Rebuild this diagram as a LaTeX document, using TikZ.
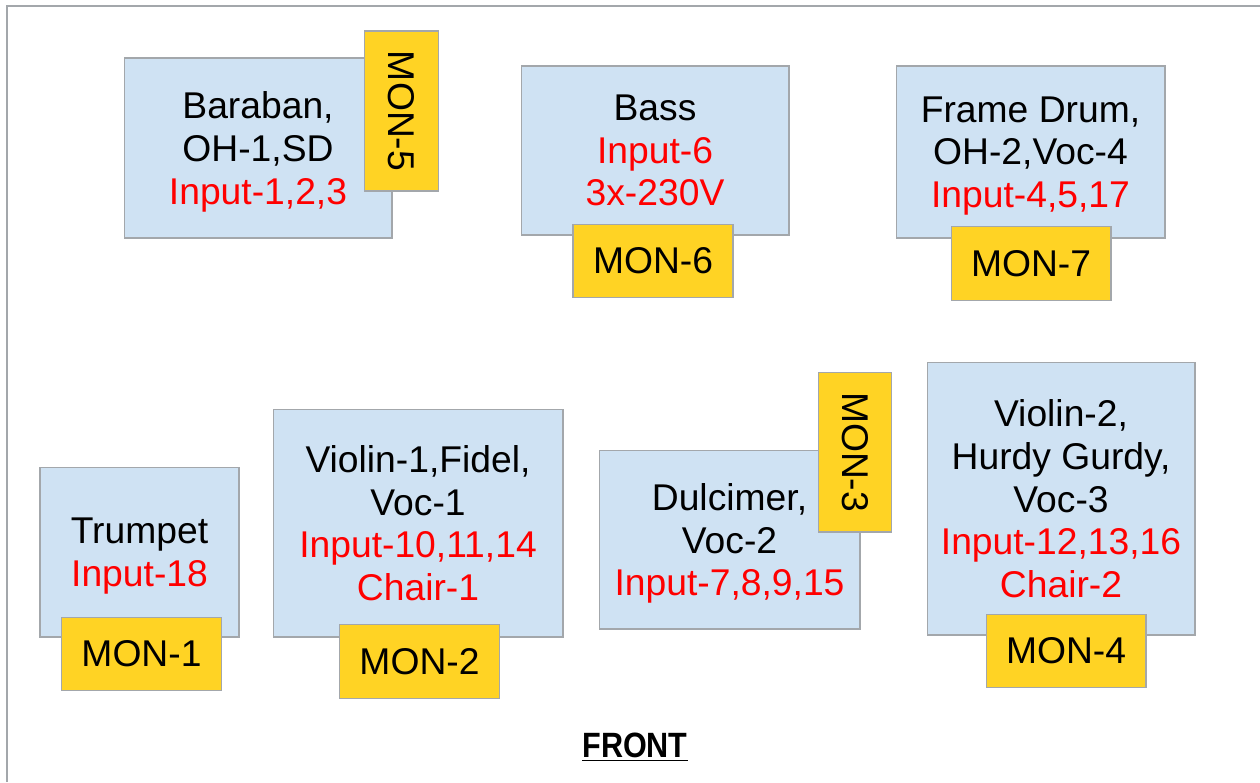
\documentclass[tikz,border=0pt]{standalone}
\usepackage{fontspec}
\setmainfont{Liberation Sans}
\usepackage{graphicx}
\definecolor{boxblue}{HTML}{CFE2F3}
\definecolor{monyellow}{HTML}{FFD324}
\definecolor{boxline}{HTML}{A3A7AB}
\tikzset{
  inst/.style={draw=boxline,fill=boxblue,line width=0.6pt,align=center,inner sep=0pt,
    text depth=0pt,font=\fontsize{21.2}{24.2}\selectfont},
  mon/.style={draw=boxline,fill=monyellow,line width=0.6pt,inner sep=0pt,
    minimum width=3.2cm,minimum height=1.47cm,font=\fontsize{21.2}{24.2}\selectfont}
}
\newcommand{\rd}[1]{\textcolor{red}{#1}}
\begin{document}
\begin{tikzpicture}[x=0.02cm,y=-0.02cm]
	\useasboundingbox (0,0) rectangle (1260,782);
	\draw[boxline,line width=0.8pt] (7,782)--(7,6)--(1260,6);
	\node[inst,minimum width=5.36cm,minimum height=3.6cm] (baraban) at (258,148) {Baraban,\\OH-1,SD\\\rd{Input-1,2,3}};
	\node[inst,minimum width=5.36cm,minimum height=3.38cm] (bass) at (655,150.5) {Bass\\\rd{Input-6}\\\rd{3x-230V}};
	\node[inst,minimum width=5.38cm,minimum height=3.44cm] (framedrum) at (1030.5,152) {Frame Drum,\\OH-2,Voc-4\\\rd{Input-4,5,17}};
	\node[inst,minimum width=3.98cm,minimum height=3.4cm] (trumpet) at (139.5,552) {Trumpet\\\rd{Input-18}};
	\node[inst,minimum width=5.8cm,minimum height=4.56cm] (violin1) at (418,523) {Violin-1,Fidel,\\Voc-1\\\rd{Input-10,11,14}\\\rd{Chair-1}};
	\node[inst,minimum width=5.22cm,minimum height=3.58cm] (dulcimer) at (729.5,539.5) {Dulcimer,\\Voc-2\\\rd{Input-7,8,9,15}};
	\node[inst,minimum width=5.36cm,minimum height=5.46cm] (violin2) at (1061,498.5) {Violin-2,\\Hurdy Gurdy,\\Voc-3\\\rd{Input-12,13,16}\\\rd{Chair-2}};
	\node[mon,rotate=-90] (mon5) at (401.5,111) {MON-5};
	\node[mon] (mon6) at (653,261) {MON-6};
	\node[mon] (mon7) at (1031,263.5) {MON-7};
	\node[mon] (mon1) at (141.5,654) {MON-1};
	\node[mon] (mon2) at (419.5,661.5) {MON-2};
	\node[mon,rotate=-90] (mon3) at (855,452) {MON-3};
	\node[mon] (mon4) at (1066,651) {MON-4};
	\node[font=\fontsize{20}{24}\selectfont\bfseries] (front) at (635,747) {\underline{\scalebox{0.87}[1]{FRONT}}};
\end{tikzpicture}
\end{document}
